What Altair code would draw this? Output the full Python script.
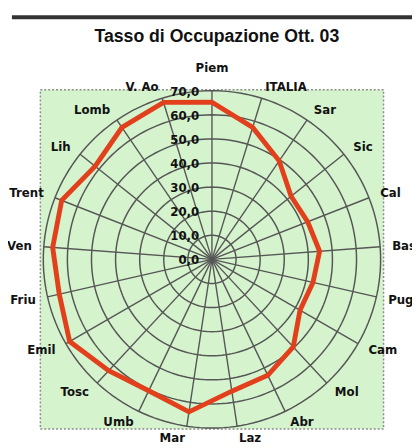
import math
import altair as alt
import pandas as pd

# ---- data ----
categories = ["Piem", "ITALIA", "Sar", "Sic", "Cal", "Bas", "Pug", "Cam", "Mol", "Abr",
              "Laz", "Mar", "Umb", "Tosc", "Emil", "Friu", "Ven", "Trent", "Lih", "Lomb", "V. Ao"]
values = [65.2, 57.3, 49.5, 42.0, 42.7, 44.8, 43.0, 42.2, 49.6, 53.4,
          55.3, 64.0, 60.5, 63.0, 68.2, 65.0, 66.3, 67.0, 62.0, 66.3, 68.2]
ring_values = [10, 20, 30, 40, 50, 60, 70]
tick_values = [0, 10, 20, 30, 40, 50, 60, 70]
tick_labels = ["0,0", "10,0", "20,0", "30,0", "40,0", "50,0", "60,0", "70,0"]
title_text = "Tasso di Occupazione Ott. 03"

N = len(categories)
R_MAX = 70
W, H = 350, 346
PX_PER_UNIT = 172 / R_MAX

df = pd.DataFrame({"cat": categories, "val": values, "i": list(range(N))})

# circular gridlines: each ring value traced around the full turn
ring_steps = list(range(0, 361, 2))
ring_df = pd.DataFrame(
    [{"r": r, "deg": d} for r in ring_values for d in ring_steps]
)

xs = alt.Scale(domain=[-(W / 2) / PX_PER_UNIT, (W / 2) / PX_PER_UNIT], nice=False, zero=False)
ys = alt.Scale(domain=[-(H / 2) / PX_PER_UNIT, (H / 2) / PX_PER_UNIT], nice=False, zero=False)

GRID = "#565656"
LABEL_FONT = "DejaVu Sans"

base = alt.Chart(df).transform_calculate(a=f"datum.i * 2 * PI / {N}")

rings = alt.Chart(ring_df).transform_calculate(
    gx="datum.r * sin(datum.deg * PI / 180)", gy="datum.r * cos(datum.deg * PI / 180)"
).mark_line(color=GRID, strokeWidth=1.5).encode(
    x=alt.X("gx:Q", scale=xs, axis=None),
    y=alt.Y("gy:Q", scale=ys, axis=None),
    detail="r:N",
    order="deg:Q",
)

spokes = base.transform_calculate(
    x0="0", y0="0",
    x1=f"{R_MAX} * sin(datum.a)", y1=f"{R_MAX} * cos(datum.a)"
).mark_rule(color=GRID, strokeWidth=1.4).encode(
    x=alt.X("x0:Q", scale=xs, axis=None),
    y=alt.Y("y0:Q", scale=ys, axis=None),
    x2="x1:Q", y2="y1:Q",
)

line = base.transform_calculate(
    px="datum.val * sin(datum.a)", py="datum.val * cos(datum.a)"
).mark_line(interpolate="linear-closed", color="#e2401c", strokeWidth=5, strokeJoin="miter").encode(
    x=alt.X("px:Q", scale=xs, axis=None),
    y=alt.Y("py:Q", scale=ys, axis=None),
    order="i:Q",
)

lab_base = base.transform_calculate(
    rl="datum.i == 0 ? 79.5 : 75",
).transform_calculate(
    lx="datum.rl * sin(datum.a)", ly="datum.rl * cos(datum.a)", s="sin(datum.a)"
)

def cat_labels(filt, align):
    return lab_base.transform_filter(filt).mark_text(
        align=align, baseline="middle", font=LABEL_FONT, fontSize=12, fontWeight="bold", color="#111"
    ).encode(
        x=alt.X("lx:Q", scale=xs, axis=None),
        y=alt.Y("ly:Q", scale=ys, axis=None),
        text="cat:N",
    )

lab_right = cat_labels("datum.s > 0.1", "left")
lab_left = cat_labels("datum.s < -0.1", "right")
lab_mid = cat_labels("abs(datum.s) <= 0.1", "center")

ticks = alt.Chart(pd.DataFrame({"v": tick_values, "t": tick_labels})).transform_calculate(
    z="0"
).mark_text(
    align="right", baseline="middle", dx=-13, dy=1, font=LABEL_FONT, fontSize=12,
    fontWeight="bold", color="#111"
).encode(
    x=alt.X("z:Q", scale=xs, axis=None),
    y=alt.Y("v:Q", scale=ys, axis=None),
    text="t:N",
)

top_rule = alt.Chart(pd.DataFrame({"k": [0]})).mark_rule(
    color="#333333", strokeWidth=4
).encode(x=alt.value(-29), x2=alt.value(380), y=alt.value(-74))

title = alt.Chart(pd.DataFrame({"t": [title_text]})).mark_text(
    align="center", baseline="middle", font="Liberation Sans", fontSize=18,
    fontWeight="bold", color="#111"
).encode(x=alt.value(180), y=alt.value(-54), text="t:N")

chart = alt.layer(
    rings, spokes, line, lab_right, lab_left, lab_mid, ticks, top_rule, title
).properties(
    width=W, height=H,
    autosize=alt.AutoSizeParams(type="none"),
    padding={"left": 33, "top": 79, "right": 29, "bottom": 15},
).configure_view(
    fill="#d5f3cc", stroke="#8c8c8c", strokeDash=[2, 2], strokeWidth=1.5
)

chart.save("out.html", embed_options={"renderer": "svg", "actions": False})
